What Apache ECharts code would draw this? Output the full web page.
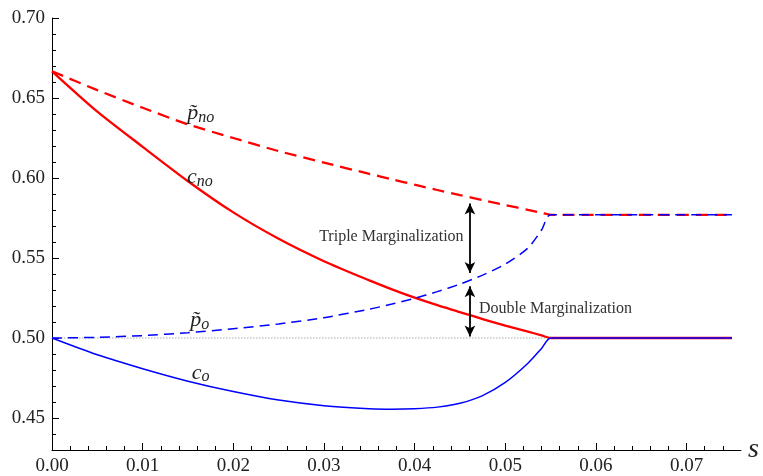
<!DOCTYPE html>
<html>
  <head>
    <meta charset="utf-8">
    <script src="https://cdn.jsdelivr.net/npm/echarts@6/dist/echarts.min.js"></script>
    <style>
      html, body { margin: 0; padding: 0; background: #fff; }
      #chart { width: 763px; height: 476px; }
    </style>
  </head>
  <body>
    <div id="chart"></div>
    <script>
      // s values (x) shared by every curve
      const sVals = [0, 0.005, 0.01, 0.015, 0.02, 0.025, 0.03, 0.035, 0.0375, 0.04, 0.0425, 0.045, 0.0475, 0.05, 0.0525, 0.054, 0.055, 0.075];
      // curves
      const pNo = [0.6667, 0.6549, 0.6439, 0.6335, 0.6250, 0.6168, 0.6096, 0.6026, 0.5992, 0.5958, 0.5925, 0.5893, 0.5862, 0.5831, 0.5801, 0.5783, 0.5770, 0.5770];
      const cNo = [0.6667, 0.6415, 0.6195, 0.5980, 0.5785, 0.5620, 0.5480, 0.5360, 0.5304, 0.5252, 0.5205, 0.5162, 0.5118, 0.5078, 0.5040, 0.5016, 0.5000, 0.5000];
      const pO  = [0.5000, 0.5004, 0.5015, 0.5033, 0.5058, 0.5088, 0.5127, 0.5180, 0.5212, 0.5248, 0.5290, 0.5337, 0.5393, 0.5462, 0.5562, 0.5675, 0.5770, 0.5770];
      const cO  = [0.5000, 0.4895, 0.4808, 0.4730, 0.4665, 0.4612, 0.4577, 0.4558, 0.4555, 0.4558, 0.4568, 0.4592, 0.4640, 0.4722, 0.4842, 0.4935, 0.5000, 0.5000];

      // tick labels
      const xMajor = [0, 0.01, 0.02, 0.03, 0.04, 0.05, 0.06, 0.07];
      const yMajor = [0.45, 0.50, 0.55, 0.60, 0.65, 0.70];
      const xMinor = [];
      for (let i = 1; i <= 37; i++) if (i % 5) xMinor.push(+(i * 0.002).toFixed(3));
      const yMinor = [];
      for (let i = 44; i <= 69; i++) if (i % 5) yMinor.push(i / 100);

      // annotation positions (data units)
      const arrowS = 0.0461;
      const tripleArrow = [0.5841, 0.5407];
      const doubleArrow = [0.5324, 0.5010];

      const serif = '"Liberation Serif", "DejaVu Serif", serif';
      const pair = (ys) => sVals.map((s, i) => [s, ys[i]]);

      const mathLabel = (base, sub) => ({
        show: true,
        position: 'inside',
        formatter: '{b|' + base + '}{s|' + sub + '}',
        rich: {
          b: { fontFamily: serif, fontStyle: 'italic', fontSize: 22, color: '#222' },
          s: { fontFamily: serif, fontStyle: 'italic', fontSize: 16, color: '#222', padding: [9, 0, 0, 0] }
        }
      });
      const tag = (coord, base, sub) => ({
        coord: coord, symbol: 'circle', symbolSize: 0, label: mathLabel(base, sub)
      });

      const chart = echarts.init(document.getElementById('chart'));
      chart.setOption({
        animation: false,
        grid: { left: 52, right: 22, top: 18, bottom: 24, containLabel: false },
        xAxis: [{
          type: 'value', position: 'bottom', min: 0, max: 0.076,
          name: 's', nameLocation: 'end', nameGap: 7,
          nameTextStyle: { fontFamily: serif, fontStyle: 'italic', fontSize: 28, color: '#222' },
          axisLine: { onZero: false, lineStyle: { color: '#000', width: 1 } },
          axisTick: { inside: true, length: 7, customValues: xMajor, lineStyle: { color: '#000' } },
          axisLabel: { customValues: xMajor, margin: 7, fontFamily: serif, fontSize: 19, color: '#222',
                       formatter: v => v.toFixed(2) },
          splitLine: { show: false }
        }, {
          type: 'value', position: 'bottom', min: 0, max: 0.076,
          axisLine: { show: false },
          axisTick: { inside: true, length: 4, customValues: xMinor, lineStyle: { color: '#000' } },
          axisLabel: { show: false },
          splitLine: { show: false }
        }],
        yAxis: [{
          type: 'value', position: 'left', min: 0.43, max: 0.70,
          axisLine: { show: true, onZero: false, lineStyle: { color: '#000', width: 1 } },
          axisTick: { show: true, inside: true, length: 7, customValues: yMajor, lineStyle: { color: '#000' } },
          axisLabel: { customValues: yMajor, margin: 7, fontFamily: serif, fontSize: 19, color: '#222',
                       formatter: v => v.toFixed(2) },
          splitLine: { show: false }
        }, {
          type: 'value', position: 'left', min: 0.43, max: 0.70,
          axisLine: { show: false },
          axisTick: { show: true, inside: true, length: 4, customValues: yMinor, lineStyle: { color: '#000' } },
          axisLabel: { show: false },
          splitLine: { show: false }
        }],
        series: [{
          name: 'base', type: 'line', symbol: 'none', silent: true,
          data: [[0, 0.5], [0.055, 0.5]],
          lineStyle: { color: '#aaa', width: 1, type: [1.5, 1.5] }
        }, {
          name: 'c_no', type: 'line', symbol: 'none', smooth: 0.25,
          data: pair(cNo),
          lineStyle: { color: '#ff0000', width: 2.3 },
          markPoint: { silent: true, data: [tag([0.0163, 0.6004], 'c', 'no')] }
        }, {
          name: 'p_no', type: 'line', symbol: 'none', smooth: 0.25,
          data: pair(pNo),
          lineStyle: { color: '#ff0000', width: 2.3, type: [12, 7] },
          markPoint: { silent: true, data: [tag([0.0164, 0.6406], 'p\u0303', 'no')] }
        }, {
          name: 'c_o', type: 'line', symbol: 'none', smooth: 0.25,
          data: pair(cO),
          lineStyle: { color: '#0000ff', width: 1.5 },
          markPoint: { silent: true, data: [tag([0.0164, 0.4783], 'c', 'o')] }
        }, {
          name: 'p_o', type: 'line', symbol: 'none', smooth: 0.25,
          data: pair(pO),
          lineStyle: { color: '#0000ff', width: 1.5, type: [10, 6] },
          markPoint: { silent: true, data: [tag([0.0163, 0.5112], 'p\u0303', 'o')] }
        }, {
          name: 'notes', type: 'line', symbol: 'none', silent: true, data: [],
          markLine: {
            silent: true, symbol: ['arrow', 'arrow'], symbolSize: [8, 11],
            label: { show: false },
            lineStyle: { color: '#000', width: 1.8, type: 'solid' },
            data: [
              [{ coord: [arrowS, tripleArrow[0]] }, { coord: [arrowS, tripleArrow[1]] }],
              [{ coord: [arrowS, doubleArrow[0]] }, { coord: [arrowS, doubleArrow[1]] }]
            ]
          },
          markPoint: {
            silent: true, symbol: 'circle', symbolSize: 0,
            label: { fontFamily: serif, fontSize: 16, color: '#333', distance: 0 },
            data: [
              { coord: [0.0454, 0.5632], label: { show: true, position: 'left', formatter: 'Triple Marginalization' } },
              { coord: [0.0471, 0.5180], label: { show: true, position: 'right', formatter: 'Double Marginalization' } }
            ]
          }
        }]
      });
    </script>
  </body>
</html>
